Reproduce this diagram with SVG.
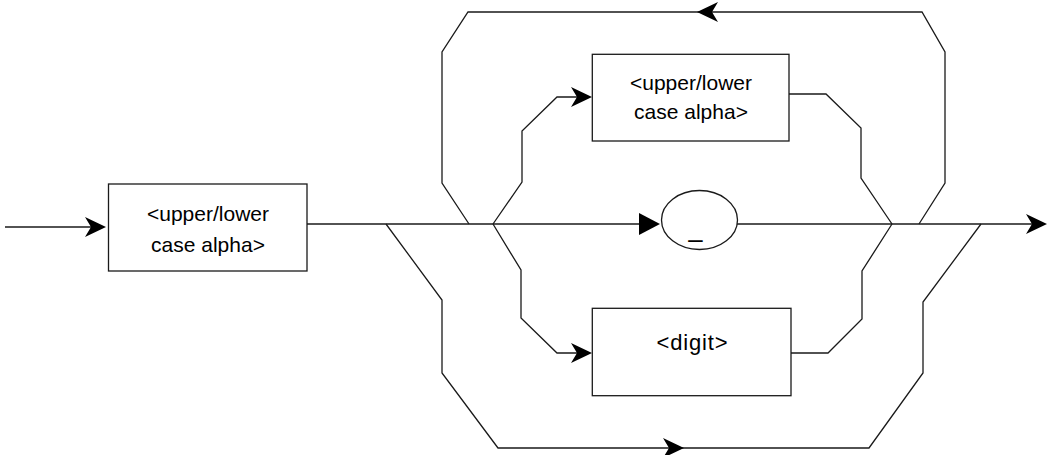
<svg xmlns="http://www.w3.org/2000/svg" xmlns:xlink="http://www.w3.org/1999/xlink" width="1048" height="455" viewBox="0 0 1048 455">
  <style>
    .box { fill: #ffffff; stroke: #1a1a1a; stroke-width: 1.3; }
    .line { fill: none; stroke: #1a1a1a; stroke-width: 1.3; stroke-linejoin: miter; }
    .head { fill: #000000; stroke: none; }
    .lbl { font-family: "Liberation Sans", Arial, sans-serif; font-size: 21px; fill: #000000; text-anchor: middle; }
  </style>
  <defs>
    <!-- barbed arrowhead, tip at origin, pointing right -->
    <path id="barb" class="head" d="M0,0 L-21,-10 L-15,0 L-21,10 Z"/>
    <!-- plain triangular arrowhead, tip at origin, pointing right -->
    <path id="tri" class="head" d="M0,0 L-21,-11 L-21,11 Z"/>
  </defs>

  <rect width="1048" height="455" fill="#ffffff"/>

  <!-- connectors -->
  <g id="connectors">
    <!-- entry -->
    <path class="line" d="M5,227 H100"/>
    <use xlink:href="#barb" href="#barb" transform="translate(106,227)"/>

    <!-- main line -->
    <path class="line" d="M307,224 H655"/>
    <use xlink:href="#tri" href="#tri" transform="translate(660,224)"/>
    <path class="line" d="M737,224 H1042"/>
    <use xlink:href="#barb" href="#barb" transform="translate(1047,224)"/>

    <!-- repeat loop over the top -->
    <path class="line" d="M919,224 L945,183 V52 L922,12 H468 L442,52 V183 L469,224"/>
    <use xlink:href="#barb" href="#barb" transform="translate(697,12) rotate(180)"/>

    <!-- branch to upper/lower case alpha -->
    <path class="line" d="M493,224 L522,182 V131 L557,97 H587"/>
    <use xlink:href="#barb" href="#barb" transform="translate(592,97)"/>
    <path class="line" d="M789,94 H826 L861,128 V178 L892,224"/>

    <!-- branch to digit -->
    <path class="line" d="M493,224 L521,270 V318 L557,353 H587"/>
    <use xlink:href="#barb" href="#barb" transform="translate(592,353)"/>
    <path class="line" d="M791,353 H828 L862,319 V271 L892,224"/>

    <!-- bypass underneath -->
    <path class="line" d="M386,224 L442,300 V373 L498,448 H869 L923,373 V302 L981,224"/>
    <use xlink:href="#barb" href="#barb" transform="translate(684,448)"/>
  </g>

  <!-- first letter -->
  <g id="first-alpha">
    <rect class="box" x="108.5" y="184" width="198.5" height="87"/>
    <text class="lbl" x="208" y="220.5">&lt;upper/lower</text>
    <text class="lbl" x="208" y="251.5">case alpha&gt;</text>
  </g>

  <!-- repeated letter -->
  <g id="next-alpha">
    <rect class="box" x="592.3" y="54.3" width="196.7" height="86.7"/>
    <text class="lbl" x="691" y="89.5">&lt;upper/lower</text>
    <text class="lbl" x="691" y="119">case alpha&gt;</text>
  </g>

  <!-- underscore -->
  <g id="underscore">
    <ellipse class="box" cx="699.5" cy="220" rx="38" ry="29.5"/>
    <text class="lbl" x="695.5" y="236.5" style="font-size:25px">_</text>
  </g>

  <!-- digit -->
  <g id="digit">
    <rect class="box" x="592.3" y="308.3" width="198.7" height="87.4"/>
    <text class="lbl" x="692" y="350" style="font-size:22px" textLength="71" lengthAdjust="spacing">&lt;digit&gt;</text>
  </g>
</svg>
